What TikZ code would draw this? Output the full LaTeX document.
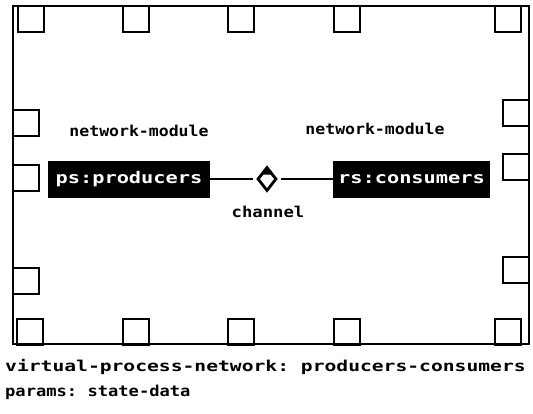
\documentclass[tikz,border=0pt]{standalone}
\usepackage{fontspec}
\setmonofont{DejaVu Sans Mono}
\usetikzlibrary{shapes.geometric}
\begin{document}
\begin{tikzpicture}[x=1pt,y=-1pt,
  frame/.style={draw=black,line width=2.4pt},
  port/.style={draw=black,line width=2.2pt,fill=white,minimum width=26pt,minimum height=26pt,inner sep=0pt},
  module/.style={fill=black,text=white,font=\ttfamily\bfseries\fontsize{16}{16}\selectfont,minimum width=162pt,minimum height=37pt,inner sep=0pt},
  label/.style={font=\ttfamily\bfseries\fontsize{15}{15}\selectfont,inner sep=0pt},
  wire/.style={draw=black,line width=2.8pt},
  junction/.style={diamond,draw=black,line width=2.8pt,fill=white,minimum width=19pt,minimum height=24pt,inner sep=0pt}]
\useasboundingbox (0,0) rectangle (533,413);
% ports along the top edge
\foreach \x [count=\i] in {31,136,241,347,508}
  \node[port] (top\i) at (\x,19) {};
% ports along the bottom edge
\foreach \x [count=\i] in {30,136,241,347,508}
  \node[port] (bot\i) at (\x,332) {};
% ports along the left edge
\foreach \y [count=\i] in {123,178,281}
  \node[port] (lft\i) at (26,\y) {};
% ports along the right edge
\foreach \y [count=\i] in {113,167,270}
  \node[port] (rgt\i) at (516,\y) {};
% outer network frame
\draw[frame] (13,6) rectangle (529,344);
% the two modules and the channel between them
\node[module] (prod) at (129,179) {\scalebox{1.27}[1]{ps:producers}};
\node[module,minimum width=157pt] (cons) at (411.5,179) {\scalebox{1.27}[1]{rs:consumers}};
\node[junction] (chan) at (267,179) {};
\draw[wire] (prod.east) -- ([xshift=-3pt]chan.west);
\draw[wire] ([xshift=3pt]chan.east) -- (cons.west);
\fill[black] (262,174.5) -- (267,166.5) -- (272,174.5) -- cycle;
\node[label] (lblprod) at (139,131) {\scalebox{1.1}[1]{network-module}};
\node[label] (lblcons) at (375,129) {\scalebox{1.1}[1]{network-module}};
\node[label] (lblchan) at (268,212) {\scalebox{1.15}[1]{channel}};
% caption under the frame
\node[label,anchor=west] (cap1) at (5,367) {\scalebox{1.31}[1]{virtual-process-network: producers-consumers}};
\node[label,anchor=west] (cap2) at (5,392) {\scalebox{1.14}[1]{params: state-data}};
\end{tikzpicture}
\end{document}
